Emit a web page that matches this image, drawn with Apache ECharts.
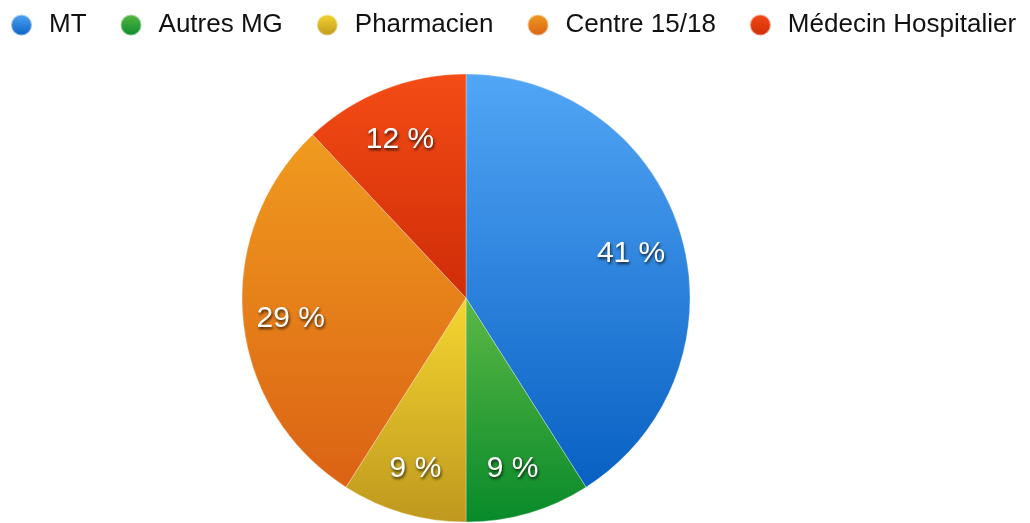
<!DOCTYPE html>
<html>
<head>
<meta charset="utf-8">
<script src="https://cdn.jsdelivr.net/npm/echarts@6/dist/echarts.min.js"></script>
<style>html,body{margin:0;padding:0;background:#fff}#c{width:1030px;height:523px}</style>
</head>
<body>
<div id="c"></div>
<script>
const categories = ['MT', 'Autres MG', 'Pharmacien', 'Centre 15/18', 'Médecin Hospitalier'];
const values = [41, 9, 9, 29, 12];
const topColors = ['#52A6F6', '#5CB845', '#F4D630', '#F09B1F', '#F44C15'];
const bottomColors = ['#0860C2', '#088A2A', '#BF981E', '#DB6214', '#CF2C08'];

const chart = echarts.init(document.getElementById('c'), null, {renderer: 'canvas'});
const grad = (i) => new echarts.graphic.LinearGradient(0, 0, 0, 1, [
  {offset: 0, color: topColors[i]}, {offset: 1, color: bottomColors[i]}
]);
const pieData = categories.map((n, i) => ({name: n, value: values[i], itemStyle: {color: grad(i)}}));
const labelData = categories.map((n, i) => ({name: n, value: values[i]}));

chart.setOption({
  animation: false,
  color: topColors,
  legend: {
    left: 10, top: 12,
    width: 1020,
    padding: 0,
    icon: 'circle',
    itemWidth: 21, itemHeight: 21,
    itemGap: 33,
    data: categories.map((n, i) => ({name: n, itemStyle: {color: grad(i)}})),
    textStyle: {fontFamily: 'Liberation Sans, Arial, sans-serif', fontSize: 26, color: '#111', padding: [0, 0, 0, 12]}
  },
  series: [
    {
      type: 'pie',
      center: [466, 298],
      radius: [0, 224],
      startAngle: 90,
      clockwise: true,
      data: pieData,
      label: {show: false},
      labelLine: {show: false},
      itemStyle: {borderColor: 'rgba(255,255,255,0.5)', borderWidth: 0.6},
      emphasis: {disabled: true}
    },
    {
      type: 'pie',
      center: [466, 298],
      radius: [118, 224],
      startAngle: 90,
      clockwise: true,
      silent: true,
      data: labelData,
      itemStyle: {color: 'rgba(0,0,0,0)'},
      legendHoverLink: false,
      label: {
        show: true,
        position: 'inside',
        formatter: '{c} %',
        offset: [-2, 4],
        color: '#fff',
        fontFamily: 'Liberation Sans, Arial, sans-serif',
        fontSize: 30,
        textShadowColor: 'rgba(0,0,0,0.75)',
        textShadowBlur: 3,
        textShadowOffsetX: 1,
        textShadowOffsetY: 2
      },
      labelLine: {show: false},
      emphasis: {disabled: true}
    }
  ]
});
</script>
</body>
</html>
